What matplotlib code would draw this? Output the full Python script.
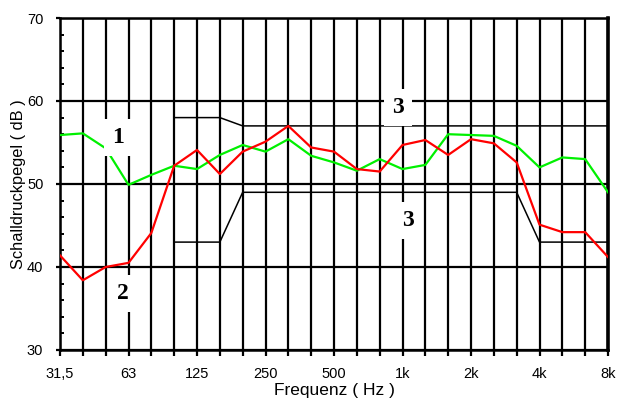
import matplotlib
matplotlib.use("Agg")
import matplotlib.pyplot as plt
from matplotlib.ticker import MultipleLocator

# third-octave bands 31.5 Hz .. 8 kHz
bands = ["31,5", "40", "50", "63", "80", "100", "125", "160", "200", "250",
         "315", "400", "500", "630", "800", "1k", "1.25k", "1.6k", "2k",
         "2.5k", "3.15k", "4k", "5k", "6.3k", "8k"]
octave_labels = ["31,5", "63", "125", "250", "500", "1k", "2k", "4k", "8k"]

# curve 1 (green)
level_1 = [55.9, 56.1, 54.3, 49.9, 51.1, 52.2, 51.8, 53.5, 54.7, 53.9, 55.4,
           53.4, 52.6, 51.6, 53.0, 51.8, 52.3, 56.0, 55.9, 55.8, 54.6, 52.0,
           53.2, 53.0, 49.0]
# curve 2 (red)
level_2 = [41.4, 38.4, 40.0, 40.5, 44.1, 52.2, 54.1, 51.2, 53.9, 55.1, 57.0,
           54.4, 53.9, 51.8, 51.5, 54.7, 55.3, 53.5, 55.4, 54.9, 52.6, 45.1,
           44.2, 44.2, 41.2]
# curves 3 (black limits), from 100 Hz on
limit_x0 = 5
limit_upper = [58, 58, 58, 57, 57, 57, 57, 57, 57, 57, 57, 57, 57, 57, 57,
               57, 57, 57, 57, 57]
limit_lower = [43, 43, 43, 49, 49, 49, 49, 49, 49, 49, 49, 49, 49, 49, 49,
               49, 43, 43, 43, 43]

plt.rcParams["font.family"] = ["Liberation Sans", "DejaVu Sans"]

fig = plt.figure(figsize=(6.2, 4.05), dpi=100)
ax = fig.add_axes([60 / 620, 1 - 350 / 405, 548 / 620, 332 / 405])

x = list(range(len(bands)))
xl = list(range(limit_x0, limit_x0 + len(limit_upper)))

ax.plot(xl, limit_upper, color="black", lw=1.1, zorder=3)
ax.plot(xl, limit_lower, color="black", lw=1.1, zorder=3)
ax.plot(x, level_1, color="#00f000", lw=1.6, zorder=4)
ax.plot(x, level_2, color="#ff0000", lw=1.6, zorder=4)

ax.set_xlim(0, len(bands) - 1)
ax.set_ylim(30, 70)

ax.set_xticks(x)
ax.set_xticklabels([b if b in octave_labels else "" for b in bands])
ax.yaxis.set_major_locator(MultipleLocator(10))
ax.yaxis.set_minor_locator(MultipleLocator(2))

ax.grid(True, which="major", color="black", lw=1.6, zorder=1)
ax.set_axisbelow(True)
ax.tick_params(axis="x", direction="out", length=4, width=1.6, pad=8,
               labelsize=10.5)
ax.tick_params(axis="y", which="major", direction="out", length=3, width=1.6,
               pad=9, labelsize=10.5)
ax.tick_params(axis="y", which="minor", direction="in", length=3, width=1.4)
for side in ["left", "bottom", "top", "right"]:
    ax.spines[side].set_linewidth(1.8)
ax.spines["right"].set_linewidth(2.6)

ax.set_xlabel("Frequenz ( Hz )", fontsize=12.5, labelpad=2)
ax.set_ylabel("Schalldruckpegel ( dB )", fontsize=11.8, labelpad=1)

box = dict(facecolor="white", edgecolor="none", boxstyle="square,pad=0.35")
label_font = dict(family="Liberation Serif", weight="bold", fontsize=17,
                  ha="center", va="center", bbox=box, zorder=5)
ax.text(2.54, 55.6, "1", **label_font)
ax.text(2.76, 36.8, "2", **label_font)
ax.text(14.8, 59.2, "3", **label_font)
ax.text(15.24, 45.6, "3", **label_font)

fig.savefig("out.png", dpi=100)
